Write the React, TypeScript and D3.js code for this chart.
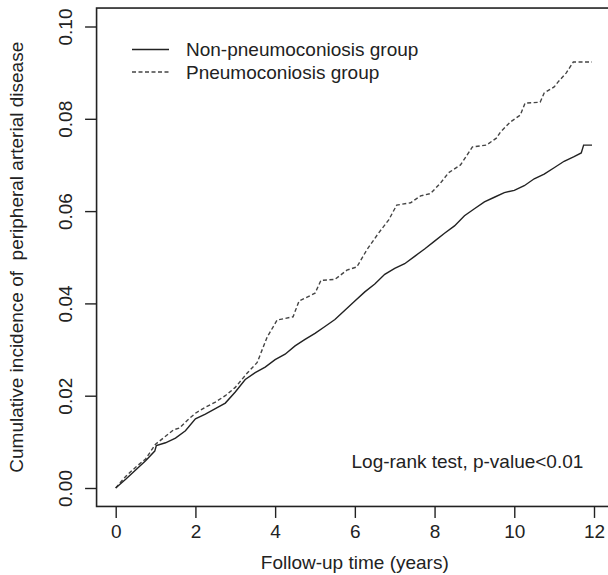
import { useRef, useEffect } from 'react';
import * as d3 from 'd3';

// follow-up time (years) and cumulative incidence
const nonTimes = [0, 0.25, 0.5, 0.75, 0.98, 1.02, 1.25, 1.5, 1.75, 2.0, 2.25, 2.5, 2.75, 3.0, 3.25, 3.5, 3.75, 4.0, 4.25, 4.5, 4.75, 5.0, 5.25, 5.5, 5.75, 6.0, 6.25, 6.5, 6.75, 7.0, 7.25, 7.5, 7.75, 8.0, 8.25, 8.5, 8.75, 9.0, 9.25, 9.5, 9.75, 10.0, 10.25, 10.5, 10.75, 11.0, 11.25, 11.5, 11.68, 11.74, 11.95];
const nonValues = [0, 0.0019, 0.0039, 0.0059, 0.0080, 0.0092, 0.0098, 0.0108, 0.0124, 0.0150, 0.0160, 0.0172, 0.0184, 0.0208, 0.0235, 0.0250, 0.0262, 0.0278, 0.0290, 0.0308, 0.0322, 0.0335, 0.0350, 0.0365, 0.0385, 0.0405, 0.0425, 0.0442, 0.0463, 0.0476, 0.0486, 0.0502, 0.0518, 0.0535, 0.0552, 0.0568, 0.0590, 0.0605, 0.0620, 0.0630, 0.0640, 0.0645, 0.0655, 0.0670, 0.0680, 0.0694, 0.0708, 0.0718, 0.0726, 0.0743, 0.0743];

const pneuTimes = [0, 0.25, 0.5, 0.75, 1.0, 1.25, 1.45, 1.6, 1.8, 2.0, 2.25, 2.5, 2.75, 3.0, 3.3, 3.55, 3.8, 4.05, 4.45, 4.6, 5.0, 5.15, 5.5, 5.8, 6.05, 6.3, 6.6, 6.85, 7.05, 7.4, 7.65, 7.9, 8.15, 8.35, 8.65, 8.95, 9.3, 9.55, 9.65, 9.9, 10.15, 10.27, 10.65, 10.75, 11.0, 11.1, 11.3, 11.48, 11.95];
const pneuValues = [0, 0.0025, 0.0045, 0.0063, 0.0095, 0.0112, 0.0126, 0.0130, 0.0147, 0.0162, 0.0175, 0.0186, 0.0200, 0.0218, 0.0249, 0.0272, 0.0327, 0.0364, 0.0371, 0.0405, 0.0422, 0.0450, 0.0452, 0.0472, 0.0479, 0.0516, 0.0553, 0.0581, 0.0613, 0.0618, 0.0633, 0.0638, 0.0661, 0.0683, 0.0700, 0.0739, 0.0743, 0.0758, 0.0771, 0.0793, 0.0808, 0.0834, 0.0836, 0.0856, 0.0869, 0.0880, 0.0899, 0.0923, 0.0923];

const xTicks = [0, 2, 4, 6, 8, 10, 12];
const yTicks = [0, 0.02, 0.04, 0.06, 0.08, 0.10];
const legendLabels = ['Non-pneumoconiosis group', 'Pneumoconiosis group'];

const FONT = '"Liberation Sans", Arial, Helvetica, sans-serif';

function App() {
    const ref = useRef<SVGSVGElement>(null);

    useEffect(() => {
        d3.select(ref.current).selectAll('*').remove();
        const svg = d3.select(ref.current);

        const x = d3.scaleLinear().domain([0, 12]).range([115.7, 594]);
        const y = d3.scaleLinear().domain([0, 0.1]).range([488, 26.5]);

        // plot box (R style, 4% padding), right side runs off the picture
        const boxL = x(-0.48), boxR = x(12.48), boxT = y(0.104), boxB = y(-0.004);
        svg.append('rect')
            .attr('x', boxL).attr('y', boxT)
            .attr('width', boxR - boxL).attr('height', boxB - boxT)
            .attr('fill', 'none').attr('stroke', '#222').attr('stroke-width', 1.6);

        const xAxis = svg.append('g')
            .attr('transform', `translate(0,${boxB})`)
            .call(d3.axisBottom(x).tickValues(xTicks).tickSize(11.5).tickFormat(d3.format('d')));
        xAxis.select('.domain').remove();
        xAxis.selectAll('line').attr('stroke', '#222').attr('stroke-width', 1.4);
        xAxis.selectAll('text')
            .attr('font-family', FONT).attr('font-size', 19).attr('fill', '#222')
            .attr('y', 32).attr('dy', 0);

        const yAxis = svg.append('g')
            .attr('transform', `translate(${boxL},0)`)
            .call(d3.axisLeft(y).tickValues(yTicks).tickSize(11.5).tickFormat(d3.format('.2f')));
        yAxis.select('.domain').remove();
        yAxis.selectAll('line').attr('stroke', '#222').attr('stroke-width', 1.4);
        yAxis.selectAll('text')
            .attr('font-family', FONT).attr('font-size', 19).attr('fill', '#222')
            .attr('transform', 'rotate(-90)')
            .attr('x', 0).attr('y', -24.5).attr('dy', 0)
            .attr('text-anchor', 'middle');

        svg.append('text')
            .attr('transform', `translate(23,${(boxT + boxB) / 2}) rotate(-90)`)
            .attr('text-anchor', 'middle')
            .attr('font-family', FONT).attr('font-size', 19).attr('fill', '#222')
            .style('white-space', 'pre')
            .text('Cumulative incidence of  peripheral arterial disease');

        svg.append('text')
            .attr('x', (boxL + 613) / 2).attr('y', 569)
            .attr('text-anchor', 'middle')
            .attr('font-family', FONT).attr('font-size', 19).attr('fill', '#222')
            .text('Follow-up time (years)');

        const line = d3.line<[number, number]>()
            .x(d => x(d[0]))
            .y(d => y(d[1]));

        const nonData = nonTimes.map((t, i) => [t, nonValues[i]] as [number, number]);
        const pneuData = pneuTimes.map((t, i) => [t, pneuValues[i]] as [number, number]);

        svg.append('path')
            .attr('d', line(pneuData))
            .attr('fill', 'none').attr('stroke', '#444').attr('stroke-width', 1.4)
            .attr('stroke-dasharray', '4,2.5');

        svg.append('path')
            .attr('d', line(nonData))
            .attr('fill', 'none').attr('stroke', '#222').attr('stroke-width', 1.4);

        // legend
        const legend = svg.append('g');
        legendLabels.forEach((label, i) => {
            const ly = 49.5 + i * 22.5;
            legend.append('line')
                .attr('x1', 132).attr('x2', 169).attr('y1', ly).attr('y2', ly)
                .attr('stroke', i === 0 ? '#222' : '#444').attr('stroke-width', 1.4)
                .attr('stroke-dasharray', i === 0 ? null : '4,2.5');
            legend.append('text')
                .attr('x', 186).attr('y', ly + 6.8)
                .attr('font-family', FONT).attr('font-size', 19).attr('fill', '#222')
                .text(label);
        });

        svg.append('text')
            .attr('x', 351.5).attr('y', 468)
            .attr('font-family', FONT).attr('font-size', 19).attr('fill', '#222')
            .text('Log-rank test, p-value<0.01');
    }, []);

    return <svg ref={ref} width={608} height={575} style={{ position: 'absolute', left: 0, top: 0, background: '#fff' }} />;
}

export default App;
